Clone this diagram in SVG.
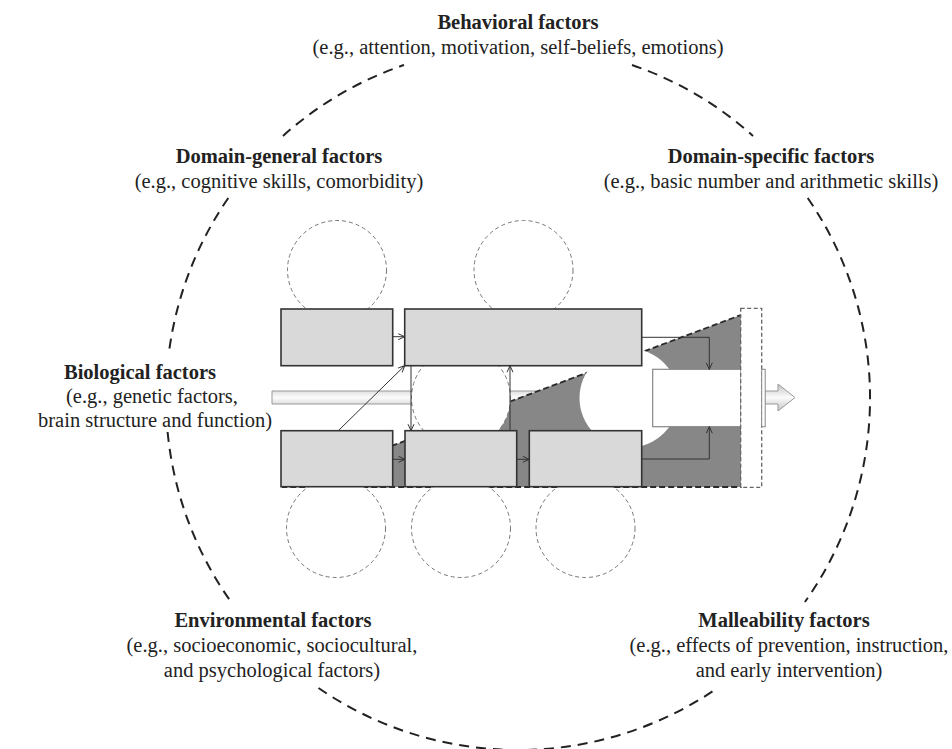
<svg xmlns="http://www.w3.org/2000/svg" width="952" height="749" viewBox="0 0 952 749">
  <style>
    .ring { fill: none; stroke: #222; stroke-width: 2; stroke-dasharray: 10 7; }
    .title { font-family: "Liberation Serif", "Times New Roman", serif; font-weight: bold; font-size: 20.5px; fill: #222; text-anchor: middle; }
    .sub { font-family: "Liberation Serif", "Times New Roman", serif; font-size: 20.5px; fill: #222; text-anchor: middle; }
    .box { fill: #d9d9d9; stroke: #333; stroke-width: 1.6; }
    .bubble { fill: #fff; stroke: #777; stroke-width: 1; stroke-dasharray: 4 3; }
    .link { fill: none; stroke: #333; stroke-width: 1; marker-end: url(#ah); }
  </style>
  <defs>
    <marker id="ah" viewBox="0 0 8 8" refX="7.5" refY="4" markerWidth="8" markerHeight="8" orient="auto" markerUnits="userSpaceOnUse">
      <path d="M1,1 L7.5,4 L1,7" fill="none" stroke="#333" stroke-width="1"/>
    </marker>
    <linearGradient id="barFill" x1="0" y1="0" x2="0" y2="1">
      <stop offset="0" stop-color="#c4c4c4"/>
      <stop offset="0.5" stop-color="#fbfbfb"/>
      <stop offset="1" stop-color="#c4c4c4"/>
    </linearGradient>
  </defs>

  <rect width="952" height="749" fill="#fff"/>

  <!-- outer dashed ring, broken where the factor labels sit -->
  <g id="ring">
    <path class="ring" d="M283,135.9 A352,352 0 0 1 404,65"/>
    <path class="ring" d="M632,65 A352,352 0 0 1 753,135.9"/>
    <path class="ring" d="M228.3,198 A352,352 0 0 0 168.6,355"/>
    <path class="ring" d="M167.6,432 A352,352 0 0 0 231.1,602"/>
    <path class="ring" d="M318.5,688 A352,352 0 0 0 717.5,688"/>
    <path class="ring" d="M807.7,198 A352,352 0 0 1 804.9,602"/>
  </g>

  <!-- factor labels -->
  <g id="behavioral">
    <text class="title" x="518" y="29">Behavioral factors</text>
    <text class="sub" x="518" y="54">(e.g., attention, motivation, self-beliefs, emotions)</text>
  </g>
  <g id="domain-general">
    <text class="title" x="279" y="163">Domain-general factors</text>
    <text class="sub" x="279" y="188">(e.g., cognitive skills, comorbidity)</text>
  </g>
  <g id="domain-specific">
    <text class="title" x="771" y="163">Domain-specific factors</text>
    <text class="sub" x="771" y="188">(e.g., basic number and arithmetic skills)</text>
  </g>
  <g id="biological">
    <text class="title" x="140" y="379">Biological factors</text>
    <text class="sub" x="152" y="403">(e.g., genetic factors,</text>
    <text class="sub" x="155" y="427">brain structure and function)</text>
  </g>
  <g id="environmental">
    <text class="title" x="273" y="627">Environmental factors</text>
    <text class="sub" x="272" y="652">(e.g., socioeconomic, sociocultural,</text>
    <text class="sub" x="272" y="677">and psychological factors)</text>
  </g>
  <g id="malleability">
    <text class="title" x="784" y="627">Malleability factors</text>
    <text class="sub" x="789" y="652">(e.g., effects of prevention, instruction,</text>
    <text class="sub" x="789" y="677">and early intervention)</text>
  </g>

  <!-- developmental arrow running through the model -->
  <g id="trajectory">
    <path d="M272,391 H778 V384 L795,397.5 L778,411 V404 H272 Z" fill="url(#barFill)" stroke="#999" stroke-width="1"/>
  </g>

  <!-- shaded wedge -->
  <g id="wedge">
    <path d="M282,487 L741,315 L741,487 Z" fill="#878787" stroke="#2a2a2a" stroke-width="1.8" stroke-dasharray="6 3"/>
  </g>

  <!-- dashed bubbles -->
  <g id="bubbles">
    <circle class="bubble" cx="337" cy="270" r="49.5"/>
    <circle class="bubble" cx="523.5" cy="270" r="49.5"/>
    <circle class="bubble" cx="461" cy="398" r="49.5"/>
    <circle cx="629" cy="398" r="49.5" fill="#fff"/>
    <circle class="bubble" cx="336" cy="528" r="49.5"/>
    <circle class="bubble" cx="461" cy="528" r="49.5"/>
    <circle class="bubble" cx="585.5" cy="528" r="49.5"/>
  </g>

  <!-- boxes -->
  <g id="box-top-left"><rect class="box" x="281" y="309" width="111.7" height="56.7"/></g>
  <g id="box-top-wide"><rect class="box" x="404.7" y="309" width="237" height="56.7"/></g>
  <g id="box-bottom-left"><rect class="box" x="281" y="430.7" width="111.7" height="56"/></g>
  <g id="box-bottom-mid"><rect class="box" x="405" y="430.7" width="111.7" height="56"/></g>
  <g id="box-bottom-right"><rect class="box" x="529.3" y="430.7" width="112.4" height="56"/></g>

  <!-- outcome box and dashed band -->
  <g id="outcome">
    <rect x="652.7" y="369.3" width="88" height="57.4" fill="#fff" stroke="#888" stroke-width="1.2"/>
  </g>
  <g id="band">
    <rect x="740.7" y="308.3" width="21" height="179" fill="#fff" stroke="#666" stroke-width="1.3" stroke-dasharray="4 2.5"/>
    <rect x="761.7" y="369.3" width="3.5" height="57.4" fill="#fff" stroke="#888" stroke-width="1"/>
  </g>

  <!-- connectors -->
  <g id="connectors">
    <path class="link" d="M392.7,336.7 H404.7"/>
    <path class="link" d="M392.7,459.3 H405"/>
    <path class="link" d="M516.7,459.3 H529.3"/>
    <path class="link" d="M338.3,430.7 L404.7,365.7"/>
    <path class="link" d="M411,365.7 V430.7"/>
    <path class="link" d="M510,430.7 V365.7"/>
    <path class="link" d="M641.7,337.3 H709.3 V369.3"/>
    <path class="link" d="M641.7,459 H709.3 V426.7"/>
  </g>
</svg>
